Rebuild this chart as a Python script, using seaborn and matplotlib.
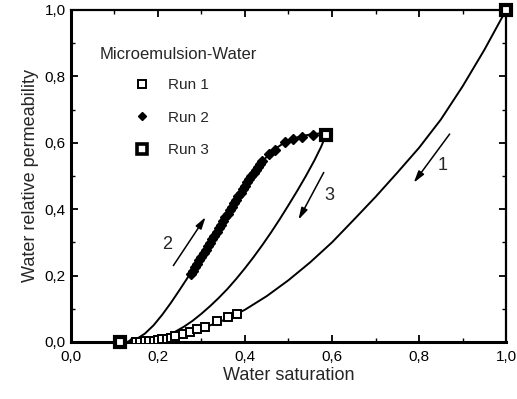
import matplotlib
matplotlib.use("Agg")
import matplotlib.pyplot as plt
import seaborn as sns
import pandas as pd
from matplotlib.ticker import MultipleLocator, FuncFormatter
from matplotlib.lines import Line2D

# fitted curves
curve1_sw = [0.12, 0.15, 0.20, 0.25, 0.30, 0.35, 0.40, 0.45, 0.50, 0.55, 0.60, 0.65, 0.70,
             0.75, 0.80, 0.85, 0.90, 0.95, 1.0]
curve1_kr = [0.0, 0.001, 0.007, 0.019, 0.040, 0.065, 0.097, 0.138, 0.186, 0.24, 0.30, 0.368, 0.437,
             0.51, 0.585, 0.67, 0.77, 0.88, 1.0]

curve2_sw = [0.13, 0.15, 0.17, 0.19, 0.21, 0.23, 0.25, 0.27, 0.29, 0.31, 0.33, 0.35, 0.37, 0.39,
             0.41, 0.43, 0.45, 0.47, 0.49, 0.51, 0.53, 0.55, 0.57, 0.59]
curve2_kr = [0.0, 0.008, 0.025, 0.05, 0.082, 0.118, 0.157, 0.197, 0.238, 0.28, 0.322, 0.365, 0.408, 0.45,
             0.49, 0.527, 0.558, 0.582, 0.60, 0.612, 0.62, 0.625, 0.628, 0.628]

curve3_sw = [0.16, 0.18, 0.20, 0.22, 0.24, 0.26, 0.28, 0.30, 0.32, 0.34, 0.36, 0.38, 0.40, 0.42,
             0.44, 0.46, 0.48, 0.50, 0.52, 0.54, 0.56, 0.575, 0.586]
curve3_kr = [0.0, 0.003, 0.009, 0.018, 0.031, 0.046, 0.064, 0.085, 0.108, 0.133, 0.16, 0.19, 0.222, 0.256,
             0.292, 0.33, 0.37, 0.412, 0.455, 0.50, 0.548, 0.588, 0.623]

# measured points
run1_sw = [0.15, 0.16, 0.17, 0.18, 0.19, 0.20, 0.21, 0.22, 0.23, 0.24, 0.257, 0.274, 0.29, 0.308, 0.336, 0.361, 0.382]
run1_kr = [0.0, 0.0, 0.002, 0.003, 0.004, 0.006, 0.008, 0.010, 0.013, 0.017, 0.024, 0.030, 0.039, 0.045, 0.063, 0.075, 0.084]

run2_sw = [0.14, 0.15, 0.16, 0.17, 0.18, 0.19, 0.20, 0.21, 0.22,
           0.275, 0.28, 0.285, 0.29, 0.295, 0.30, 0.305, 0.31, 0.315, 0.32, 0.325, 0.33,
           0.335, 0.34, 0.345, 0.35, 0.355, 0.36, 0.365, 0.37, 0.375, 0.38, 0.385, 0.39,
           0.395, 0.40, 0.405, 0.41, 0.415, 0.42, 0.425, 0.43, 0.435, 0.44,
           0.455, 0.469, 0.492, 0.51, 0.531, 0.556]
run2_kr = [0.0, 0.0, 0.002, 0.003, 0.004, 0.005, 0.007, 0.009, 0.012,
           0.205, 0.215, 0.226, 0.236, 0.247, 0.257, 0.268, 0.278, 0.289, 0.299, 0.31, 0.32,
           0.331, 0.342, 0.353, 0.364, 0.375, 0.386, 0.397, 0.407, 0.418, 0.429, 0.44, 0.45,
           0.461, 0.471, 0.481, 0.49, 0.50, 0.51, 0.519, 0.527, 0.536, 0.544,
           0.566, 0.578, 0.601, 0.611, 0.618, 0.624]

run3_sw = [0.113, 0.586, 1.0]
run3_kr = [0.0, 0.623, 1.0]

x_ticks = [0.0, 0.2, 0.4, 0.6, 0.8, 1.0]
y_ticks = [0.0, 0.2, 0.4, 0.6, 0.8, 1.0]

# arrows: (tail, head), label position, label
arrows = [((0.874, 0.633), (0.784, 0.473), (0.855, 0.53), "1"),
          ((0.232, 0.223), (0.313, 0.383), (0.222, 0.295), "2"),
          ((0.584, 0.518), (0.52, 0.361), (0.594, 0.44), "3")]

sns.set_style("ticks")
plt.rcParams["font.family"] = ["Liberation Sans", "DejaVu Sans"]

fig = plt.figure(figsize=(5.17, 3.99), dpi=100)
ax = fig.add_axes([0.137, 0.143, 0.842, 0.832])

for sw, kr in [(curve1_sw, curve1_kr), (curve2_sw, curve2_kr), (curve3_sw, curve3_kr)]:
    d = pd.DataFrame({"sw": sw, "kr": kr})
    sns.lineplot(data=d, x="sw", y="kr", sort=False, estimator=None, color="black", lw=1.4, ax=ax)

ax.plot(run2_sw, run2_kr, ls="none", marker="D", ms=5.5, mfc="black", mec="black", zorder=3)
ax.plot(run1_sw, run1_kr, ls="none", marker="s", ms=5.5, mfc="white", mec="black", mew=1.4, zorder=4)
ax.plot(run3_sw, run3_kr, ls="none", marker="s", ms=7.5, mfc="white", mec="black", mew=3.0,
        zorder=5, clip_on=False)

for tail, head, lab_pos, lab in arrows:
    ax.annotate("", xy=head, xytext=tail,
                arrowprops=dict(arrowstyle="-|>,head_length=0.7,head_width=0.2", color="black", lw=1.1))
    ax.text(lab_pos[0], lab_pos[1], lab, fontsize=13, ha="center", va="center")

ax.text(0.067, 0.865, "Microemulsion-Water", fontsize=12, ha="left", va="center")
handles = [Line2D([], [], ls="none", marker="s", ms=5.5, mfc="white", mec="black", mew=1.4),
           Line2D([], [], ls="none", marker="D", ms=4.5, mfc="black", mec="black"),
           Line2D([], [], ls="none", marker="s", ms=6.5, mfc="white", mec="black", mew=2.6)]
ax.legend(handles, ["Run 1", "Run 2", "Run 3"], loc="upper left", bbox_to_anchor=(0.115, 0.835),
          frameon=False, fontsize=11, labelspacing=1.2, handletextpad=1.2, handlelength=1.0)

ax.set_xlim(0, 1)
ax.set_ylim(0, 1)
ax.set_xticks(x_ticks)
ax.set_yticks(y_ticks)
ax.xaxis.set_minor_locator(MultipleLocator(0.1))
ax.yaxis.set_minor_locator(MultipleLocator(0.1))
fmt = FuncFormatter(lambda v, p: f"{v:.1f}".replace(".", ","))
ax.xaxis.set_major_formatter(fmt)
ax.yaxis.set_major_formatter(fmt)
ax.tick_params(which="both", direction="in", top=True, right=True, labelsize=11, colors="black")
ax.tick_params(which="major", length=5, width=1.3)
ax.tick_params(which="minor", length=3, width=1.0)
ax.tick_params(axis="x", pad=6)
for side, lw in [("left", 2.2), ("bottom", 2.2), ("top", 1.6), ("right", 1.6)]:
    ax.spines[side].set_visible(True)
    ax.spines[side].set_linewidth(lw)
    ax.spines[side].set_color("black")

ax.set_xlabel("Water saturation", fontsize=13, labelpad=2)
ax.set_ylabel("Water relative permeability", fontsize=13, labelpad=4)

fig.savefig("out.png", dpi=100)
